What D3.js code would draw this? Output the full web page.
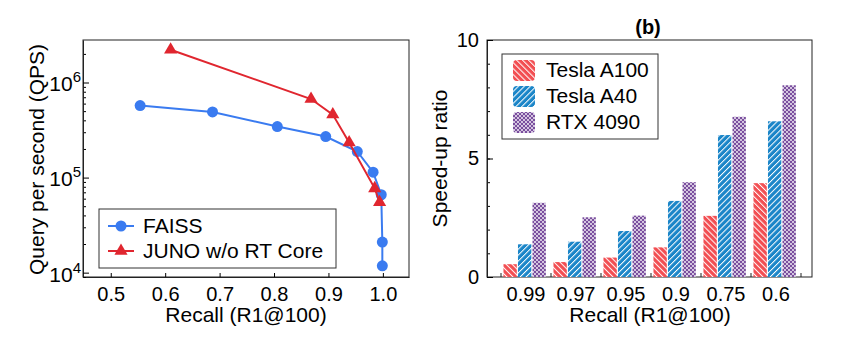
<!DOCTYPE html>
<html>
<head>
<meta charset="utf-8">
<script src="https://cdn.jsdelivr.net/npm/d3@7"></script>
<style>
  body { margin: 0; background: #fff; }
  svg text { font-family: "Liberation Sans", Arial, Helvetica, sans-serif; fill: #000; }
  .domain { stroke: #222; }
</style>
</head>
<body>
<div id="chart"></div>
<script>
// (a) recall vs QPS
const faissRecall = [0.554, 0.687, 0.806, 0.895, 0.953, 0.982, 0.997, 0.999, 0.999];
const faissQps = [572000, 490000, 344000, 270000, 188000, 114000, 66000, 21000, 11800];
const junoRecall = [0.61, 0.868, 0.908, 0.938, 0.985, 0.994];
const junoQps = [2210000, 670000, 460000, 234000, 77000, 55000];
const recallTicks = [0.5, 0.6, 0.7, 0.8, 0.9, 1.0];

// (b) speed-up bars
const recallGroups = ["0.99", "0.97", "0.95", "0.9", "0.75", "0.6"];
const gpus = ["Tesla A100", "Tesla A40", "RTX 4090"];
const speedA100 = [0.54, 0.63, 0.82, 1.25, 2.58, 3.96];
const speedA40 = [1.38, 1.49, 1.94, 3.21, 5.99, 6.57];
const speed4090 = [3.13, 2.52, 2.59, 4.0, 6.76, 8.09];

const W = 858, H = 338;
const svg = d3.select("#chart").append("svg")
    .attr("width", W).attr("height", H);

// hatch patterns
const defs = svg.append("defs");
function stripes(id, color, angle) {
    const p = defs.append("pattern").attr("id", id)
        .attr("patternUnits", "userSpaceOnUse")
        .attr("width", 4.2).attr("height", 4.2)
        .attr("patternTransform", `rotate(${angle})`);
    p.append("rect").attr("width", 4.2).attr("height", 4.2).attr("fill", color);
    p.append("rect").attr("x", 0).attr("width", 1).attr("height", 4.2).attr("fill", "#fff");
}
stripes("hatchRed", "#f24e52", -45);
stripes("hatchBlue", "#1a85c8", 45);
const dots = defs.append("pattern").attr("id", "hatchPurple")
    .attr("patternUnits", "userSpaceOnUse")
    .attr("width", 4).attr("height", 4);
dots.append("rect").attr("width", 4).attr("height", 4).attr("fill", "#7a4e9e");
dots.append("circle").attr("cx", 0).attr("cy", 0).attr("r", 0.9).attr("fill", "#fff");
dots.append("circle").attr("cx", 4).attr("cy", 0).attr("r", 0.9).attr("fill", "#fff");
dots.append("circle").attr("cx", 0).attr("cy", 4).attr("r", 0.9).attr("fill", "#fff");
dots.append("circle").attr("cx", 4).attr("cy", 4).attr("r", 0.9).attr("fill", "#fff");
dots.append("circle").attr("cx", 2).attr("cy", 2).attr("r", 0.9).attr("fill", "#fff");
const fills = ["url(#hatchRed)", "url(#hatchBlue)", "url(#hatchPurple)"];

// ---------- panel (a) ----------
const a = { left: 83, top: 40, width: 326, height: 237 };
const gA = svg.append("g").attr("transform", `translate(${a.left},${a.top})`);

const x = d3.scaleLinear().domain([0.449, 1.048]).range([0, a.width]);
const y = d3.scaleLog().domain([9000, 2800000]).range([a.height, 0]);

gA.append("rect").attr("width", a.width).attr("height", a.height)
    .attr("fill", "none").attr("stroke", "#222").attr("stroke-width", 1);

const xAxA = gA.append("g").attr("transform", `translate(0,${a.height})`)
    .call(d3.axisBottom(x).tickValues(recallTicks).tickFormat(d3.format(".1f"))
        .tickSizeInner(-4).tickSizeOuter(0).tickPadding(10));
xAxA.selectAll("text").attr("font-size", 20);

// minor log ticks
const minor = [];
for (let e = 3; e <= 6; e++) for (let m = 1; m <= 9; m++) {
    const v = m * Math.pow(10, e);
    if (v >= 9000 && v <= 2800000 && m !== 1) minor.push(v);
}
gA.append("g").call(d3.axisLeft(y).tickValues(minor).tickFormat("").tickSizeInner(-3).tickSizeOuter(0))
    .select(".domain").remove();
const yAxA = gA.append("g").call(d3.axisLeft(y).tickValues([1e4, 1e5, 1e6]).tickFormat("")
    .tickSizeInner(-6).tickSizeOuter(0));
yAxA.selectAll(".tick").append("text")
    .attr("x", -2).attr("dy", "0.4em").attr("text-anchor", "end").attr("font-size", 21)
    .each(function (d) {
        const t = d3.select(this);
        t.append("tspan").text("10");
        t.append("tspan").attr("dy", "-0.6em").attr("font-size", 15).text(Math.round(Math.log10(d)));
    });

const faiss = faissRecall.map((r, i) => [r, faissQps[i]]);
const juno = junoRecall.map((r, i) => [r, junoQps[i]]);
const line = d3.line().x(d => x(d[0])).y(d => y(d[1]));
const blue = "#3a7bf0", red = "#e0262f";

gA.append("path").datum(faiss).attr("d", line)
    .attr("fill", "none").attr("stroke", blue).attr("stroke-width", 2);
gA.selectAll(".fpt").data(faiss).join("circle").attr("class", "fpt")
    .attr("cx", d => x(d[0])).attr("cy", d => y(d[1])).attr("r", 5.5).attr("fill", blue);

gA.append("path").datum(juno).attr("d", line)
    .attr("fill", "none").attr("stroke", red).attr("stroke-width", 2);
const tri = d3.symbol().type(d3.symbolTriangle).size(75);
gA.selectAll(".jpt").data(juno).join("path").attr("class", "jpt")
    .attr("d", tri).attr("transform", d => `translate(${x(d[0])},${y(d[1])})`)
    .attr("fill", red);

// legend (a)
const legA = gA.append("g").attr("transform", "translate(16,169)");
legA.append("rect").attr("width", 237).attr("height", 59)
    .attr("fill", "#fff").attr("stroke", "#333").attr("stroke-width", 1);
[["FAISS", blue, "c"], ["JUNO w/o RT Core", red, "t"]].forEach((s, i) => {
    const row = legA.append("g").attr("transform", `translate(0,${17 + i * 25})`);
    row.append("line").attr("x1", 9).attr("x2", 35)
        .attr("stroke", s[1]).attr("stroke-width", 2);
    if (s[2] === "c") row.append("circle").attr("cx", 22).attr("r", 5.5).attr("fill", s[1]);
    else row.append("path").attr("d", tri).attr("transform", "translate(22,0)").attr("fill", s[1]);
    row.append("text").attr("x", 44).attr("dy", "0.35em").attr("font-size", 21).text(s[0]);
});

gA.append("text").attr("x", a.width / 2).attr("y", a.height + 45)
    .attr("text-anchor", "middle").attr("font-size", 21).text("Recall (R1@100)");
gA.append("text").attr("transform", `translate(-39,${a.height / 2 + 1}) rotate(-90)`)
    .attr("text-anchor", "middle").attr("font-size", 21).text("Query per second (QPS)");

// ---------- panel (b) ----------
const b = { left: 487, top: 40, width: 325, height: 237 };
const gB = svg.append("g").attr("transform", `translate(${b.left},${b.top})`);

const xb = d3.scaleBand().domain(recallGroups).range([14, 314]).padding(0);
const xs = d3.scaleBand().domain(gpus).range([1.3, 46]).padding(0.08);
const yb = d3.scaleLinear().domain([0, 10]).range([b.height, 0]);

gB.append("rect").attr("width", b.width).attr("height", b.height)
    .attr("fill", "none").attr("stroke", "#222").attr("stroke-width", 1);

gB.append("g").call(d3.axisLeft(yb).tickValues(d3.range(0, 11)).tickFormat("")
    .tickSizeInner(-3).tickSizeOuter(0)).select(".domain").remove();
const yAxB = gB.append("g").call(d3.axisLeft(yb).tickValues([0, 5, 10])
    .tickSizeInner(-6).tickSizeOuter(0).tickPadding(8));
yAxB.selectAll("text").attr("font-size", 20);

// group boundary ticks
const bounds = recallGroups.map(g => xb(g)).concat([xb.range()[1]]);
gB.selectAll(".gt").data(bounds).join("line").attr("class", "gt")
    .attr("x1", d => d).attr("x2", d => d)
    .attr("y1", b.height).attr("y2", b.height - 4).attr("stroke", "#222");
gB.selectAll(".gl").data(recallGroups).join("text").attr("class", "gl")
    .attr("x", d => xb(d) + xb.bandwidth() / 2).attr("y", b.height + 24)
    .attr("text-anchor", "middle").attr("font-size", 20).text(d => d);

const series = [speedA100, speedA40, speed4090];
const groupsB = gB.selectAll(".grp").data(recallGroups).join("g").attr("class", "grp")
    .attr("transform", d => `translate(${xb(d)},0)`);
groupsB.selectAll("rect")
    .data((d, gi) => gpus.map((k, si) => ({ key: k, si: si, value: series[si][gi] })))
    .join("rect")
    .attr("x", d => xs(d.key)).attr("y", d => yb(d.value))
    .attr("width", xs.bandwidth()).attr("height", d => yb(0) - yb(d.value))
    .attr("fill", d => fills[d.si]);

// legend (b)
const legB = gB.append("g").attr("transform", "translate(15,14)");
legB.append("rect").attr("width", 156).attr("height", 85)
    .attr("fill", "#fff").attr("stroke", "#333").attr("stroke-width", 1);
gpus.forEach((k, i) => {
    const row = legB.append("g").attr("transform", `translate(0,${16 + i * 26})`);
    row.append("rect").attr("x", 11).attr("y", -10).attr("width", 22).attr("height", 21)
        .attr("rx", 4).attr("fill", fills[i]);
    row.append("text").attr("x", 44).attr("dy", "0.35em").attr("font-size", 21).text(k);
});

gB.append("text").attr("x", 161).attr("y", -6).attr("text-anchor", "middle")
    .attr("font-size", 20).attr("font-weight", "bold").text("(b)");
gB.append("text").attr("x", 163).attr("y", b.height + 45)
    .attr("text-anchor", "middle").attr("font-size", 21).text("Recall (R1@100)");
gB.append("text").attr("transform", `translate(-40,${b.height / 2}) rotate(-90)`)
    .attr("text-anchor", "middle").attr("font-size", 21).text("Speed-up ratio");
</script>
</body>
</html>
